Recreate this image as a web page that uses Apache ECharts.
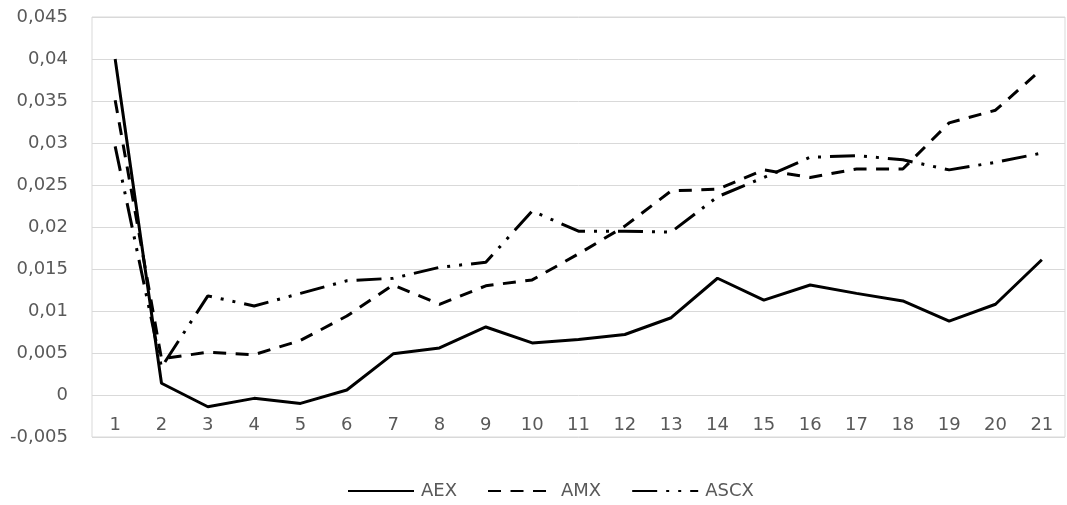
<!DOCTYPE html>
<html>
<head>
<meta charset="utf-8">
<script src="https://cdn.jsdelivr.net/npm/echarts@6/dist/echarts.min.js"></script>
<style>html,body{margin:0;padding:0;background:#fff}#c{width:1067px;height:505px}</style>
</head>
<body>
<div id="c"></div>
<script>
const categories = ['1','2','3','4','5','6','7','8','9','10','11','12','13','14','15','16','17','18','19','20','21'];
const aex  = [0.0400, 0.0014, -0.0014, -0.0004, -0.0010, 0.0006, 0.0049, 0.0056, 0.0081, 0.0062, 0.0066, 0.0072, 0.0092, 0.0139, 0.0113, 0.0131, 0.0121, 0.0112, 0.0088, 0.0108, 0.0161];
const amx  = [0.0351, 0.0043, 0.0051, 0.0048, 0.0065, 0.0094, 0.0131, 0.0108, 0.0130, 0.0137, 0.0168, 0.0201, 0.0243, 0.0245, 0.0268, 0.0259, 0.0269, 0.0269, 0.0324, 0.0339, 0.0388];
const ascx = [0.0296, 0.0033, 0.0118, 0.0106, 0.0121, 0.0136, 0.0139, 0.0152, 0.0158, 0.0219, 0.0195, 0.0195, 0.0194, 0.0236, 0.0259, 0.0283, 0.0285, 0.0280, 0.0268, 0.0277, 0.0288];
const seriesNames = ['AEX', 'AMX', 'ASCX'];

const FONT = 'DejaVu Sans';
const chart = echarts.init(document.getElementById('c'), null, {renderer: 'canvas'});
function fmt(v) {
  return parseFloat(v.toFixed(3)).toString().replace('.', ',');
}
const common = {type: 'line', symbol: 'none', showSymbol: false, smooth: false, animation: false};
chart.setOption({
  animation: false,
  backgroundColor: '#ffffff',
  grid: {left: 92, top: 17, right: 2, bottom: 68, show: true, borderColor: '#d9d9d9', borderWidth: 1},
  xAxis: {
    type: 'category', data: categories, boundaryGap: true, position: 'bottom',
    axisLine: {show: false, onZero: false},
    axisTick: {show: false},
    axisLabel: {color: '#595959', fontSize: 18, fontFamily: FONT, margin: -21},
    splitLine: {show: false}
  },
  yAxis: {
    type: 'value', min: -0.005, max: 0.045, interval: 0.005,
    axisLine: {show: false}, axisTick: {show: false},
    axisLabel: {color: '#595959', fontSize: 18, fontFamily: FONT, margin: 24, formatter: fmt},
    splitLine: {show: true, lineStyle: {color: '#d9d9d9', width: 1}}
  },
  legend: {
    top: 477, left: 342, itemWidth: 66, itemHeight: 14, itemGap: 30,
    itemStyle: {opacity: 0},
    textStyle: {color: '#595959', fontSize: 18, fontFamily: FONT, padding: [0, 0, 0, 2]},
    data: seriesNames
  },
  series: [
    Object.assign({}, common, {name: seriesNames[0], data: aex, lineStyle: {color: '#000', width: 3, type: 'solid', cap: 'butt'}, itemStyle: {color: '#000'}}),
    Object.assign({}, common, {name: seriesNames[1], data: amx, lineStyle: {color: '#000', width: 3, type: [13, 9.5], cap: 'butt'}, itemStyle: {color: '#000'}}),
    Object.assign({}, common, {name: seriesNames[2], data: ascx, lineStyle: {color: '#000', width: 3, type: [25, 9, 3, 9, 3, 9], cap: 'butt'}, itemStyle: {color: '#000'}})
  ]
});
</script>
</body>
</html>
